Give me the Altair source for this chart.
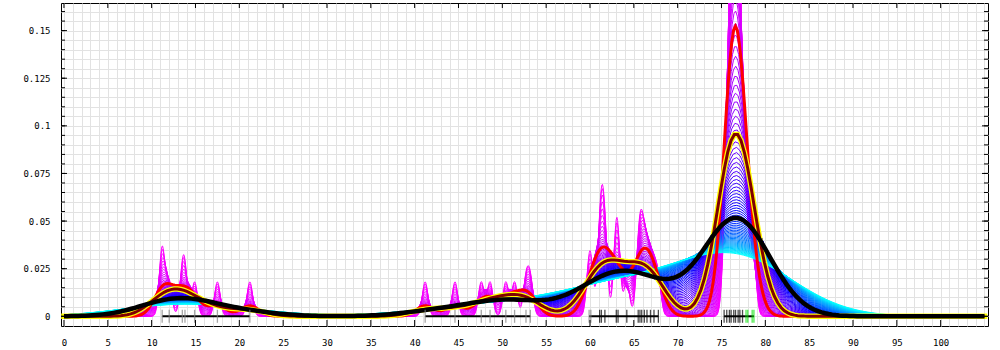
import colorsys
import altair as alt
import numpy as np
import pandas as pd

# ---- data ----
# distinct observation positions (rug) and number of observations at each
values = [11.2, 12.0, 13.5, 13.8, 14.9, 17.5, 21.2,
          41.2, 44.6, 47.6, 48.6, 50.4, 51.4, 52.7, 53.2,
          59.9, 60.1, 61.1, 61.3, 61.7, 63.0, 63.2, 64.2, 65.5, 65.7, 65.9,
          66.2, 66.5, 66.9, 67.3, 67.8,
          75.3, 75.6, 75.9, 76.1, 76.4, 76.6, 76.9, 77.1, 77.4, 77.8, 78.0, 78.5, 78.7]
counts = [2, 1, 1, 1, 1, 1, 1,
          1, 1, 1, 1, 1, 1, 1, 1,
          1, 1, 1, 2, 2, 2, 1, 1, 1, 1, 1,
          1, 1, 1, 1, 1,
          1, 2, 3, 4, 5, 5, 4, 3, 3, 1, 1, 1, 1]
cluster = [1] * 7 + [2] * 8 + [3] * 16 + [4] * 13
rug_kind = ["grey"] * 17 + ["dark"] * 23 + ["new"] * 4

# bandwidth family (thin curves) and the three highlighted bandwidths
bw_min, bw_max, n_curves, bw_power = 0.32, 6.5, 80, 1.3
bw_red, bw_yellow, bw_black = 1.05, 1.9, 3.75

# axis ticks / grid
x_grid = list(range(0, 106))
x_major = list(range(0, 101, 5))
y_grid = [round(i * 0.005, 3) for i in range(0, 33)]
y_major = [round(i * 0.025, 3) for i in range(0, 7)]

# ---- tables ----
points_df = pd.DataFrame({"v": np.repeat(values, counts)})
rug_df = pd.DataFrame({"v": values, "kind": rug_kind, "cluster": cluster})
seg_df = rug_df.groupby("cluster")["v"].agg(["min", "max"]).reset_index()
family = [bw_min + (bw_max - bw_min) * (k / (n_curves - 1)) ** bw_power
          for k in range(n_curves)]

W, H = 927, 323
xs = alt.Scale(domain=[-0.34, 105.4], nice=False, zero=False)
ys = alt.Scale(domain=[-0.0051, 0.1645], nice=False, zero=False)

x_axis = alt.Axis(values=x_grid, title="", grid=True, ticks=False, tickSize=0,
                  domain=False, labelPadding=12, labelOverlap=False,
                  labelFlush=False, labelBound=False,
                  labelExpr="(datum.value % 5 == 0 && datum.value <= 100) ? datum.label : ''")
y_axis = alt.Axis(values=y_grid, title="", grid=True, ticks=False, tickSize=0,
                  domain=False, labelPadding=11, labelOverlap=False,
                  labelFlush=False, labelBound=False, format="~g",
                  labelExpr="(round(datum.value * 1000) % 25 == 0) ? datum.label : ''")


def X(field):
    return alt.X(field, scale=xs, axis=x_axis)


def Y(field):
    return alt.Y(field, scale=ys, axis=y_axis)


def hue_hex(h):
    t = (h - bw_min) / (bw_max - bw_min)
    hue = (300.0 - 120.0 * t) / 360.0
    r, g, b = colorsys.hls_to_rgb(hue, 0.5, 1.0)
    return "#%02x%02x%02x" % (round(r * 255), round(g * 255), round(b * 255))


def kde(h, color, width, cap="butt"):
    steps = int(min(1400, max(260, 105.0 / (h / 5.0))))
    return (
        alt.Chart(points_df)
        .transform_density("v", bandwidth=float(h), extent=[0, 105], steps=steps,
                           as_=["v", "density"])
        .mark_line(color=color, strokeWidth=width, clip=True, strokeCap=cap)
        .encode(x=X("v:Q"), y=Y("density:Q"))
    )


layers = [kde(h, hue_hex(h), 1) for h in family]
layers.append(kde(bw_red, "#ff0000", 3))
layers.append(kde(bw_yellow, "#ffff00", 5.5, cap="square"))
layers.append(kde(bw_yellow, "#800000", 3))
layers.append(kde(bw_black, "#000000", 4.5))

# baseline segments spanning each cluster of observations
layers.append(
    alt.Chart(seg_df).transform_calculate(zero="0")
    .mark_rule(color="black", strokeWidth=2)
    .encode(x=X("min:Q"), x2="max:Q", y=Y("zero:Q"))
)

# rug
layers.append(
    alt.Chart(rug_df).transform_calculate(zero="0")
    .mark_tick(orient="vertical", size=13, thickness=1.3)
    .encode(
        x=X("v:Q"), y=Y("zero:Q"),
        color=alt.Color("kind:N", scale=alt.Scale(domain=["grey", "dark", "new"],
                                                  range=["#808080", "#000000", "#00e000"]),
                        legend=None),
    )
)

# inward tick marks on the four sides
ymaj_df = pd.DataFrame({"t": y_major})
ymin_df = pd.DataFrame({"t": y_grid})
xmaj_df = pd.DataFrame({"t": x_major})
for df, ln in ((ymin_df, 4), (ymaj_df, 6)):
    layers.append(alt.Chart(df).mark_rule(color="black").encode(
        y=Y("t:Q"), x=alt.value(0), x2=alt.value(ln)))
    layers.append(alt.Chart(df).mark_rule(color="black").encode(
        y=Y("t:Q"), x=alt.value(W - ln), x2=alt.value(W)))
layers.append(alt.Chart(xmaj_df).mark_rule(color="black").encode(
    x=X("t:Q"), y=alt.value(H - 6), y2=alt.value(H)))
layers.append(alt.Chart(xmaj_df).mark_rule(color="black").encode(
    x=X("t:Q"), y=alt.value(0), y2=alt.value(5)))

chart = (
    alt.layer(*layers)
    .properties(width=W, height=H,
                autosize=alt.AutoSizeParams(type="none"),
                padding={"left": 61, "top": 3, "right": 12, "bottom": 24},
                background="white")
    .configure_view(stroke="black", strokeWidth=1)
    .configure_axis(labelFont="DejaVu Sans Mono", labelFontSize=9, labelColor="black",
                    gridColor="#e2e2e2", gridWidth=1)
)

chart.save("out.html", embed_options={"renderer": "svg", "actions": False})
